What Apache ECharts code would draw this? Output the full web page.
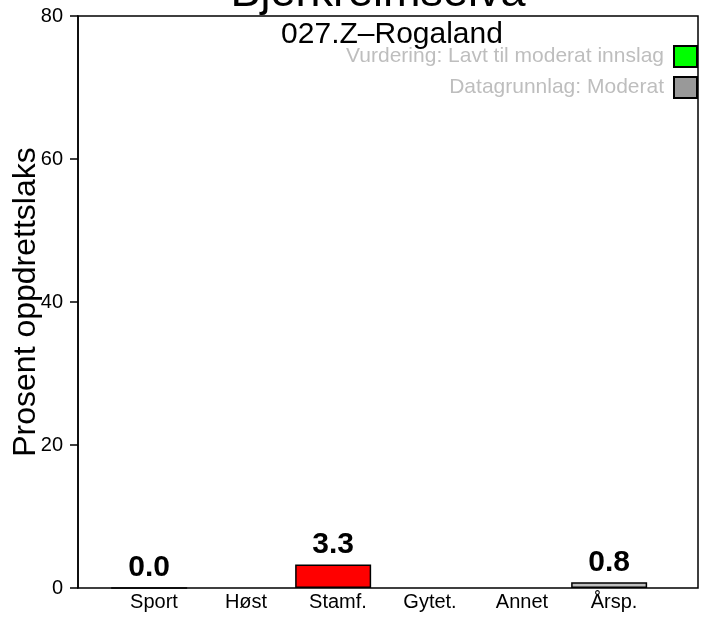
<!DOCTYPE html>
<html>
<head>
<meta charset="utf-8">
<script src="https://cdn.jsdelivr.net/npm/echarts@6/dist/echarts.min.js"></script>
<style>
  html, body { margin: 0; padding: 0; background: #fff; }
  #chart { width: 706px; height: 620px; }
</style>
</head>
<body>
<div id="chart"></div>
<script>
// data
const categories = ['Sport', 'Høst', 'Stamf.', 'Gytet.', 'Annet', 'Årsp.'];
const values = [0.0, null, 3.3, null, null, 0.8];
const barColors = ['#bebebe', '#bebebe', '#ff0000', '#bebebe', '#bebebe', '#bebebe'];
const yTicks = [0, 20, 40, 60, 80];
const legendNames = ['Vurdering: Lavt til moderat innslag', 'Datagrunnlag: Moderat'];
const legendColors = ['#00ff00', '#999999'];

const FONT = 'Liberation Sans';
const chart = echarts.init(document.getElementById('chart'));

let barData = values.map((v, i) => v === null ? null : {
  value: v,
  itemStyle: { color: barColors[i] }
});

let series = [{
  type: 'bar',
  xAxisIndex: 1,
  yAxisIndex: 1,
  data: barData,
  barWidth: 76,
  itemStyle: { borderColor: '#000', borderWidth: 1.5 },
  label: {
    show: true,
    position: 'top',
    distance: 5,
    formatter: p => p.value.toFixed(1),
    fontFamily: FONT,
    fontSize: 30,
    fontWeight: 'bold',
    color: '#000'
  },
  silent: true
}];

legendNames.forEach((name, i) => {
  series.push({
    name: name,
    type: 'bar',
    xAxisIndex: 1,
    yAxisIndex: 1,
    data: [],
    itemStyle: { color: legendColors[i], borderColor: '#000', borderWidth: 1.5 }
  });
});

const options = {
  animation: false,
  textStyle: { fontFamily: FONT },
  title: [{
    text: 'Bjerkreimselva',
    left: 373,
    textAlign: 'center',
    top: -34,
    textStyle: { fontFamily: FONT, fontSize: 45, fontWeight: 'normal', color: '#000' }
  }, {
    text: '027.Z\u2013Rogaland',
    left: 387,
    textAlign: 'center',
    top: 15,
    textStyle: { fontFamily: FONT, fontSize: 30, fontWeight: 'normal', color: '#000' }
  }],
  legend: {
    orient: 'vertical',
    right: 8,
    top: 45,
    padding: 0,
    align: 'right',
    itemWidth: 23,
    itemHeight: 21,
    itemGap: 8,
    icon: 'rect',
    selectedMode: false,
    data: legendNames,
    textStyle: { fontFamily: FONT, fontSize: 21, lineHeight: 21, color: '#bebebe', padding: [0, 5, 0, 0] }
  },
  grid: [
    // frame + y axis
    { left: 78, top: 16, width: 620, height: 572, show: true, outerBoundsMode: 'none',
      borderColor: '#000', borderWidth: 1.5, backgroundColor: 'transparent' },
    // bars
    { left: 108, top: 16, width: 552, height: 572, outerBoundsMode: 'none' }
  ],
  xAxis: [{
    gridIndex: 0,
    type: 'category',
    data: [''],
    show: false
  }, {
    gridIndex: 1,
    type: 'category',
    data: categories,
    axisLine: { show: false },
    axisTick: { show: false },
    axisLabel: { fontFamily: FONT, fontSize: 20, color: '#000', margin: 4 }
  }],
  yAxis: [{
    gridIndex: 0,
    type: 'value',
    min: 0,
    max: 80,
    interval: 20,
    name: 'Prosent oppdrettslaks',
    nameLocation: 'middle',
    nameGap: 36,
    nameMoveOverlap: false,
    nameTextStyle: { fontFamily: FONT, fontSize: 32, color: '#000' },
    axisLine: { show: true, lineStyle: { color: '#000', width: 1.5 } },
    axisTick: { show: true, length: 8, lineStyle: { color: '#000', width: 1.5 } },
    axisLabel: {
      fontFamily: FONT, fontSize: 20, color: '#000', margin: 15,
      customValues: yTicks
    },
    splitLine: { show: false }
  }, {
    gridIndex: 1,
    type: 'value',
    min: 0,
    max: 80,
    show: false,
    splitLine: { show: false }
  }],
  series: series
};

chart.setOption(options);
</script>
</body>
</html>
